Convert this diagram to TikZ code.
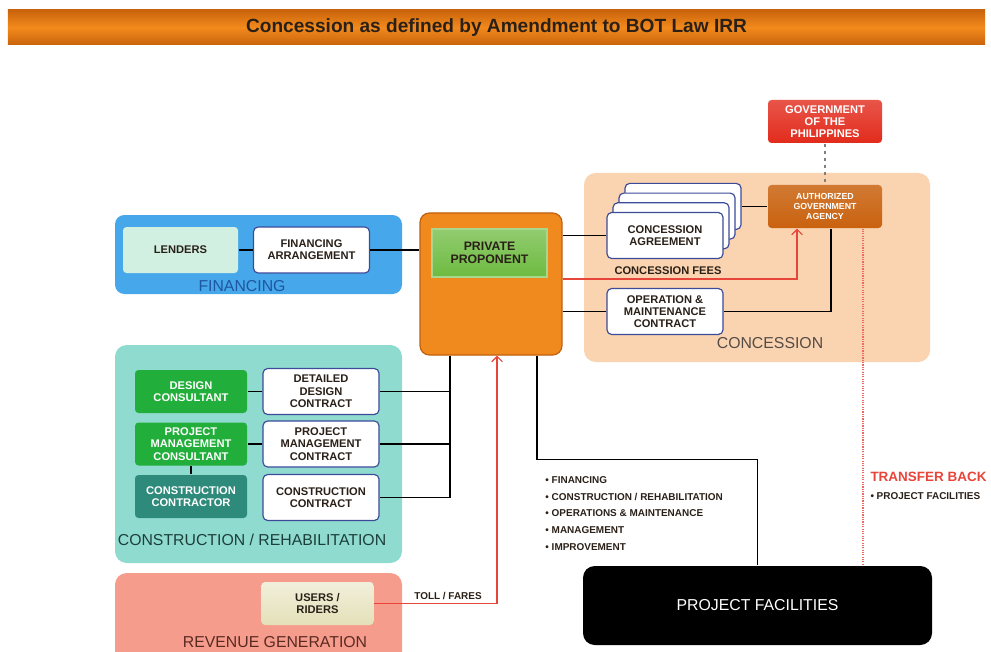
\documentclass[tikz,border=0pt]{standalone}
\usepackage{fontspec}
\setmainfont{Liberation Sans}
\usetikzlibrary{arrows.meta, positioning, calc}

\definecolor{bannerorange}{HTML}{F28A1C}
\definecolor{bannerdark}{HTML}{C9630C}
\definecolor{govred}{HTML}{E22B1C}
\definecolor{agencyorange}{HTML}{C9620F}
\definecolor{concpeach}{HTML}{FAD3B0}
\definecolor{finblue}{HTML}{46A8EA}
\definecolor{finlabel}{HTML}{1E56A0}
\definecolor{lendmint}{HTML}{D2F0E2}
\definecolor{proporange}{HTML}{F08A1E}
\definecolor{propdark}{HTML}{C0600E}
\definecolor{propgreen}{HTML}{6DBB40}
\definecolor{consteal}{HTML}{90DBCF}
\definecolor{conslabel}{HTML}{1D3F3A}
\definecolor{consgreen}{HTML}{22AE3A}
\definecolor{contrteal}{HTML}{2E8A7A}
\definecolor{revsalmon}{HTML}{F59C8C}
\definecolor{revlabel}{HTML}{5A2A22}
\definecolor{usersbeige}{HTML}{E4E0B8}
\definecolor{boxblue}{HTML}{3C4A9A}
\definecolor{feered}{HTML}{E8453A}
\definecolor{textdark}{HTML}{2A2018}

\begin{document}
\begin{tikzpicture}[x=0.3mm, y=-0.3mm, >={Straight Barb[length=1.6mm, width=3.2mm]}, line width=1pt,
    every node/.style={font=\fontsize{9.5}{10.5}\selectfont\bfseries, align=center, text=textdark},
    contract/.style={draw=boxblue, fill=white, rounded corners=4pt, minimum width=34.8mm, minimum height=13.8mm},
    party/.style={rounded corners=3pt, minimum width=33.6mm, minimum height=12.9mm, text=white},
    govbox/.style={rounded corners=3pt, minimum width=34.2mm, minimum height=12.9mm, text=white},
    region/.style={font=\fontsize{13.5}{15}\selectfont},
    feeline/.style={feered, line width=1pt},
    smalltext/.style={font=\fontsize{8.5}{14.3}\selectfont\bfseries}]
    \useasboundingbox (0,0) rectangle (991,652);

    % Title banner
    \node[top color=bannerdark, bottom color=bannerdark, middle color=bannerorange,
        minimum width=293.1mm, minimum height=10.5mm, font=\fontsize{16.3}{18}\selectfont\bfseries]
        (title) at (496.5,27.5) {Concession as defined by Amendment to BOT Law IRR};

    % Regions
    \fill[concpeach, rounded corners=10pt] (584,173) rectangle (930,362);
    \fill[finblue, rounded corners=8pt] (115,215) rectangle (402,294);
    \fill[consteal, rounded corners=10pt] (115,345) rectangle (402,563);
    \fill[revsalmon, rounded corners=10pt] (115,573) rectangle (402,668);
    \node[region, text=finlabel] (finlbl) at (242,286) {FINANCING};
    \node[region, text=conslabel] (conslbl) at (252,540) {CONSTRUCTION / REHABILITATION};
    \node[region, text=revlabel] (revlbl) at (275,642) {REVENUE GENERATION};
    \node[region, text=textdark!80] (conclbl) at (770,343) {CONCESSION};

    % Government side
    \node[govbox, top color=govred!80!white, bottom color=govred] (gov) at (825,121.5) {GOVERNMENT\\OF THE\\PHILIPPINES};
    \node[govbox, top color=agencyorange!85!white, bottom color=agencyorange,
        font=\fontsize{7.5}{8.5}\selectfont\bfseries] (agency) at (825,206.5) {AUTHORIZED\\GOVERNMENT\\AGENCY};

    % Concession contracts
    \foreach \i in {3,2,1}
        \node[contract] (cstack\i) at (665+6*\i, 235.5-9.7*\i) {};
    \node[contract] (cagr) at (665,235.5) {CONCESSION\\AGREEMENT};
    \node[contract] (om) at (665,311.5) {OPERATION \&\\MAINTENANCE\\CONTRACT};

    % Private proponent
    \node[draw=propdark, fill=proporange, rounded corners=8pt, minimum width=42.6mm, minimum height=42.6mm] (prop) at (491,284) {};
    \node[top color=propgreen!75!white, bottom color=propgreen, draw=propgreen!60!white, minimum width=34.5mm, minimum height=14.4mm,
        font=\fontsize{10.5}{11.5}\selectfont\bfseries] (propname) at (489.5,253) {PRIVATE\\PROPONENT};

    % Financing
    \node[party, fill=lendmint, text=textdark, minimum width=34.5mm, minimum height=13.8mm] (lend) at (180.5,250) {LENDERS};
    \node[contract] (farr) at (311.5,250) {FINANCING\\ARRANGEMENT};

    % Construction / rehabilitation
    \node[party, fill=consgreen] (dc) at (191,391.5) {DESIGN\\CONSULTANT};
    \node[party, fill=consgreen] (pmc) at (191,444) {PROJECT\\MANAGEMENT\\CONSULTANT};
    \node[party, fill=contrteal] (cc) at (191,496.5) {CONSTRUCTION\\CONTRACTOR};
    \node[contract] (ddc) at (321,391.5) {DETAILED\\DESIGN\\CONTRACT};
    \node[contract] (pmct) at (321,444) {PROJECT\\MANAGEMENT\\CONTRACT};
    \node[contract] (cct) at (321,497.5) {CONSTRUCTION\\CONTRACT};

    % Revenue
    \node[party, top color=usersbeige!50!white, bottom color=usersbeige, text=textdark] (users) at (317.5,603.5) {USERS /\\RIDERS};

    % Project facilities
    \node[fill=black, rounded corners=10pt, minimum width=104.7mm, minimum height=23.7mm, text=white,
        font=\fontsize{13.5}{15}\selectfont] (pf) at (757.5,605.5) {PROJECT FACILITIES};

    % Connectors
    \draw (lend) -- (farr);
    \draw (farr) -- (farr -| prop.west);
    \draw (prop.east |- cagr) -- (cagr);
    \draw (cstack3.east) -- (cstack3.east -| agency.west);
    \draw (prop.east |- om) -- (om);
    \draw (om.east) -| ([xshift=1.8mm]agency.south);
    \draw[gray, dashed] (gov) -- (agency);
    \draw[feeline, ->] (prop.east |- 0,279) -| ([xshift=-8.4mm]agency.south);
    \node (feetxt) at (668,271) {CONCESSION FEES};

    \draw (dc) -- (ddc);
    \draw (pmc) -- (pmct);
    \draw (pmc) -- (cc);
    \coordinate (bus) at ([xshift=-12.3mm]prop.south);
    \draw (bus) |- (cct.east);
    \draw (ddc.east) -- (ddc.east -| bus);
    \draw (pmct.east) -- (pmct.east -| bus);

    \draw[feeline, ->] (users) -| ([xshift=1.8mm]prop.south);
    \node[font=\fontsize{8.5}{10}\selectfont\bfseries] (tolltxt) at (448,596) {TOLL / FARES};

    \draw ([xshift=13.8mm]prop.south) -- ++(0,104) -| (pf.north);
    \node[smalltext, anchor=west, align=left] (scope) at (541,513.5)
        {\textbullet\ FINANCING\\ \textbullet\ CONSTRUCTION / REHABILITATION\\ \textbullet\ OPERATIONS \& MAINTENANCE\\
         \textbullet\ MANAGEMENT\\ \textbullet\ IMPROVEMENT};

    % Transfer back
    \draw[feered!80, densely dotted] ([xshift=11.4mm]agency.south) -- ([xshift=11.4mm]agency.south |- pf.north);
    \node[anchor=west, text=feered, font=\fontsize{11.5}{13}\selectfont\bfseries] (tbtxt) at (866,477) {TRANSFER BACK};
    \node[smalltext, anchor=west] (tbitem) at (866,496) {\textbullet\ PROJECT FACILITIES};
\end{tikzpicture}
\end{document}
